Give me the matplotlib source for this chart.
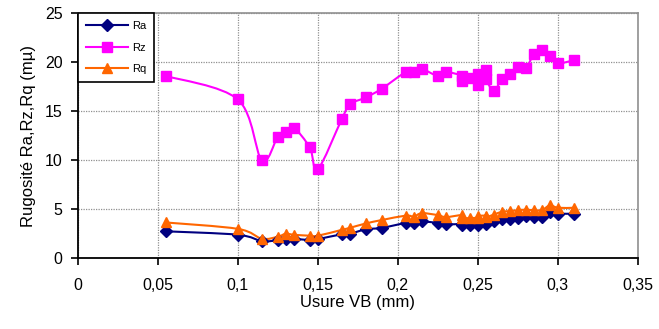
import matplotlib
matplotlib.use("Agg")
import matplotlib.pyplot as plt
from matplotlib.path import Path
from matplotlib.patches import PathPatch
from matplotlib.lines import Line2D
import numpy as np

plt.rcParams['font.family'] = ['Liberation Sans', 'DejaVu Sans']

# Flank wear VB (mm)
usure_vb = [0.055, 0.1, 0.115, 0.125, 0.13, 0.135, 0.145, 0.15, 0.165, 0.17,
            0.18, 0.19, 0.205, 0.21, 0.215, 0.225, 0.23, 0.24, 0.24, 0.245,
            0.25, 0.25, 0.255, 0.255, 0.26, 0.265, 0.27, 0.275, 0.28, 0.285,
            0.29, 0.295, 0.3, 0.31]

ra = [2.75, 2.4, 1.75, 1.85, 2.0, 2.0, 1.85, 1.95, 2.45, 2.5,
      2.95, 3.1, 3.6, 3.6, 3.75, 3.6, 3.45, 3.5, 3.4, 3.35,
      3.35, 3.5, 3.45, 3.55, 3.8, 4.0, 4.0, 4.15, 4.35, 4.2,
      4.2, 4.7, 4.55, 4.55]

rz = [18.6, 16.2, 10.0, 12.4, 12.9, 13.3, 11.3, 9.1, 14.2, 15.7,
      16.4, 17.3, 19.0, 19.0, 19.3, 18.6, 19.0, 18.6, 18.1, 18.4,
      18.8, 17.7, 19.2, 18.3, 17.1, 18.3, 18.8, 19.5, 19.4, 20.8,
      21.2, 20.6, 19.9, 20.2]

rq = [3.65, 3.0, 2.0, 2.2, 2.5, 2.4, 2.3, 2.3, 2.9, 3.1,
      3.55, 3.9, 4.35, 4.25, 4.6, 4.4, 4.2, 4.4, 4.1, 4.1,
      4.15, 4.3, 4.35, 4.2, 4.45, 4.75, 4.8, 4.9, 4.95, 4.9,
      4.9, 5.4, 5.15, 5.15]

x_ticks = [0, 0.05, 0.1, 0.15, 0.2, 0.25, 0.3, 0.35]
x_tick_labels = ["0", "0,05", "0,1", "0,15", "0,2", "0,25", "0,3", "0,35"]
y_ticks = [0, 5, 10, 15, 20, 25]

series = [
    ("Ra", ra, "#000080", "D", 6),
    ("Rz", rz, "#FF00FF", "s", 6.5),
    ("Rq", rq, "#FF6600", "^", 7.5),
]


def smooth_path(x, y, t=1.0 / 6.0):
    """Cubic Bezier path through the points (Catmull-Rom style smoothing)."""
    p = np.column_stack([x, y]).astype(float)
    n = len(p)
    verts = [p[0]]
    codes = [Path.MOVETO]
    for i in range(n - 1):
        p0 = p[i - 1] if i > 0 else p[i]
        p1 = p[i]
        p2 = p[i + 1]
        p3 = p[i + 2] if i + 2 < n else p[i + 1]
        c1 = p1 + (p2 - p0) * t
        c2 = p2 - (p3 - p1) * t
        verts += [c1, c2, p2]
        codes += [Path.CURVE4] * 3
    return Path(verts, codes)


fig = plt.figure(figsize=(6.59, 3.29), dpi=100)
ax = fig.add_axes([0.118, 0.215, 0.850, 0.745])

handles = []
for name, vals, color, marker, ms in series:
    patch = PathPatch(smooth_path(usure_vb, vals), facecolor="none",
                      edgecolor=color, lw=1.5, zorder=3)
    ax.add_patch(patch)
    ax.plot(usure_vb, vals, linestyle="none", marker=marker, ms=ms,
            color=color, zorder=4)
    handles.append(Line2D([], [], color=color, lw=1.5, marker=marker,
                          ms=ms, label=name))

ax.set_xlim(0, 0.35)
ax.set_ylim(0, 25)
ax.set_xticks(x_ticks)
ax.set_xticklabels(x_tick_labels)
ax.set_yticks(y_ticks)

ax.grid(True, color="#909090", linestyle=(0, (1, 1)), linewidth=0.9)
ax.set_axisbelow(True)

for side in ("top", "right"):
    ax.spines[side].set_color("#909090")
    ax.spines[side].set_linewidth(1.2)
for side in ("left", "bottom"):
    ax.spines[side].set_color("black")
    ax.spines[side].set_linewidth(1.3)

ax.tick_params(axis="both", labelsize=11.5, length=5, width=1.2,
               direction="out", colors="black", pad=6)
ax.tick_params(axis="x", pad=9)

ax.set_xlabel("Usure VB (mm)", fontsize=12, labelpad=2)
ax.set_ylabel("Rugosité Ra,Rz,Rq (mµ)", fontsize=12, labelpad=6)

leg = ax.legend(handles=handles, loc="upper left", bbox_to_anchor=(0, 1),
                borderaxespad=0, fontsize=8, handlelength=3.8,
                labelspacing=1.05, handletextpad=0.4, borderpad=0.7,
                fancybox=False, framealpha=1, edgecolor="black")
leg.get_frame().set_linewidth(1.2)

fig.savefig("out.png", dpi=100)
